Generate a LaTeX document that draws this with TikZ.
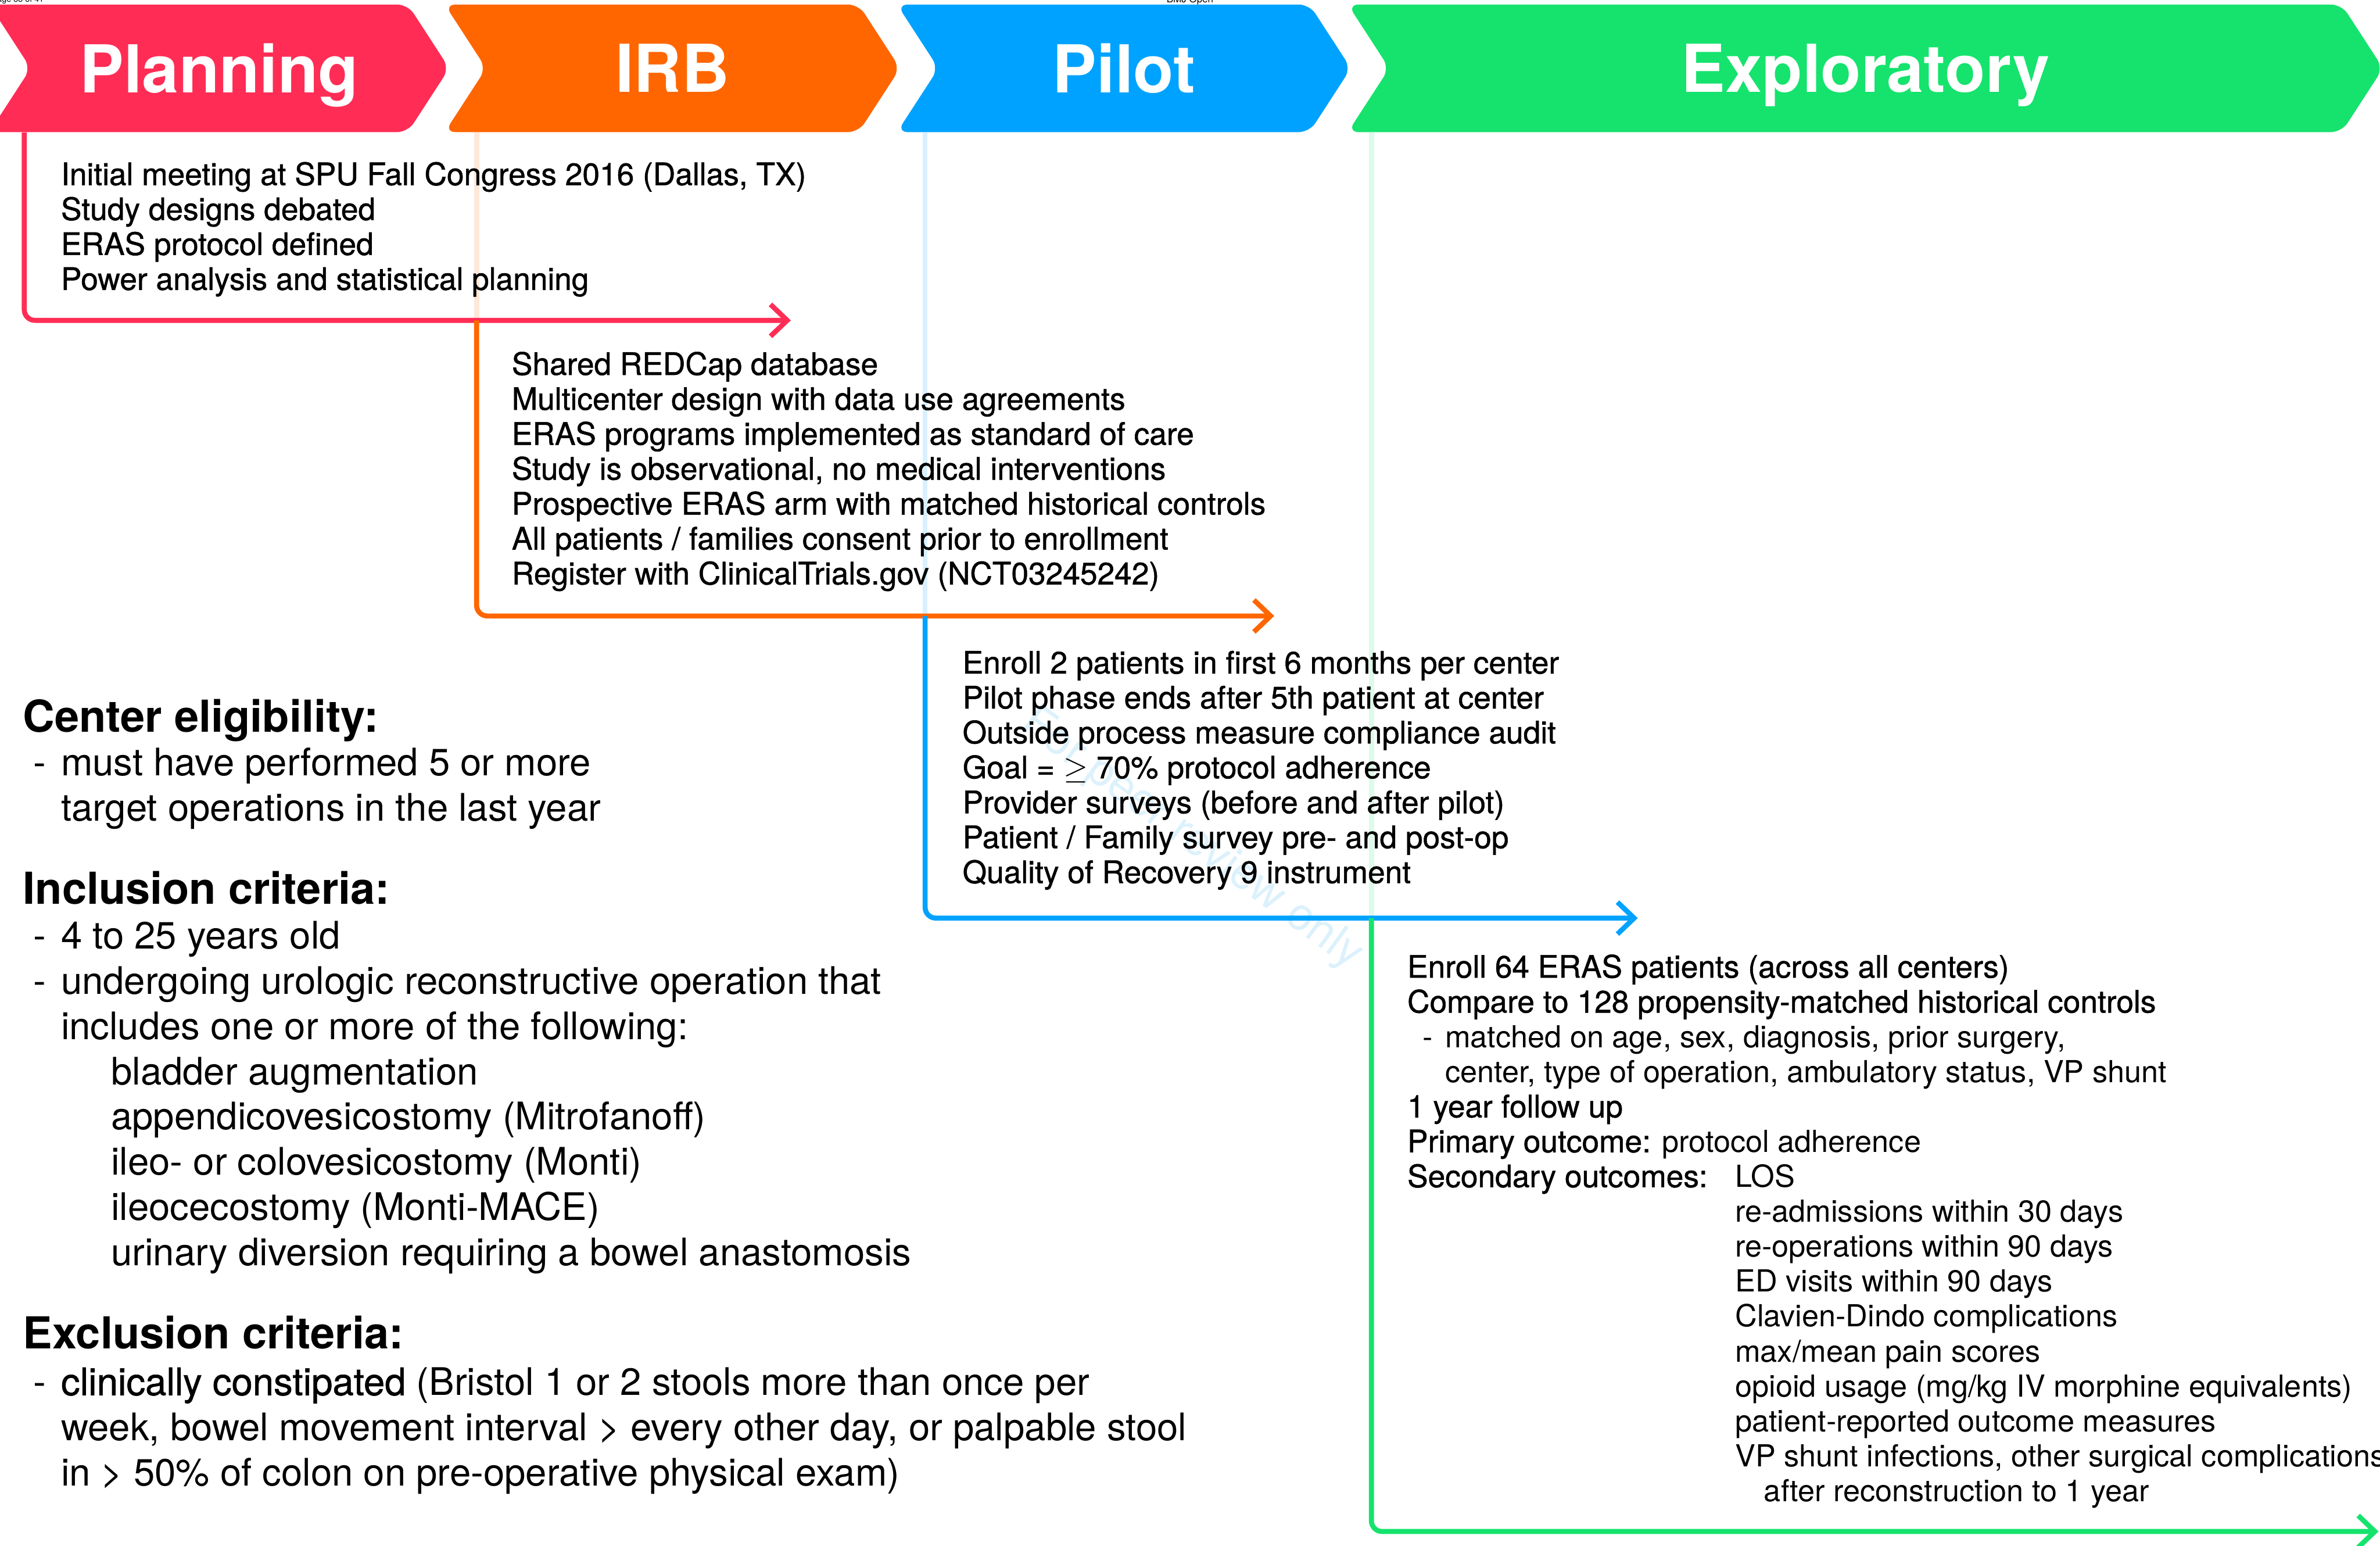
\documentclass[tikz,border=0pt]{standalone}
\usepackage{fontspec}
\setmainfont{TeX Gyre Heros}
\newfontfamily\medfont[FakeBold=1]{TeX Gyre Heros}
\newfontfamily\lightfont{TeX Gyre Heros}
\usetikzlibrary{shapes.symbols}
\usetikzlibrary{arrows.meta}
\tikzset{>={Straight Barb[length=11pt,width=21pt]}}
\definecolor{planred}{RGB}{255,45,85}
\definecolor{irborange}{RGB}{255,102,0}
\definecolor{pilotblue}{RGB}{0,162,255}
\definecolor{explgreen}{RGB}{21,227,109}
\definecolor{wmark}{RGB}{220,241,252}
\newcommand{\dashitem}{\makebox[18pt][l]{-}}
\newcommand{\lt}{\lightfont\fontsize{20}{23}\selectfont}

\begin{document}
\begin{tikzpicture}[x=1pt, y=-1pt, phase/.style={signal, signal from=west, signal to=east, signal pointer angle=114, minimum height=84pt, minimum width=#1, inner sep=0pt, text depth=0pt, text=white, font=\bfseries\fontsize{43.5}{44}\selectfont, rounded corners=7pt}, flow/.style={draw=#1, line width=3.3pt, rounded corners=7pt, ->}, faint/.style={draw=#1!15, line width=3.3pt}, block/.style={anchor=north west, inner sep=0pt, align=left, font=\medfont\fontsize{20.4}{23}\selectfont}, crit/.style={anchor=north west, inner sep=0pt, align=left, font=\lightfont\fontsize{25}{29.8}\selectfont}, crithead/.style={anchor=north west, inner sep=0pt, font=\bfseries\fontsize{29}{30}\selectfont}]
    \useasboundingbox (0,0) rectangle (1568,1018);

    %Page marks
    \node[anchor=base east, inner sep=0pt, font=\fontsize{5.5}{6}\selectfont] (pageno) at (29,1.5) {Page 33 of 41};
    \node[anchor=base, inner sep=0pt, font=\fontsize{6.5}{7}\selectfont] (journal) at (784,1.8) {BMJ Open};
    \node[rotate=-36, text=wmark, font=\fontsize{30}{30}\selectfont] (review) at (785,553) {For peer review only};

    %Phases
    \node[phase=303pt, fill=planred](plan) at (144.5,45) {Planning};
    \node[phase=300pt, fill=irborange](irb) at (443,45) {IRB};
    \node[phase=299pt, fill=pilotblue](pilot) at (740.5,45) {Pilot};
    \node[phase=682pt, fill=explgreen](expl) at (1229,45) {Exploratory};

    \coordinate (planCol) at (16,0);
    \coordinate (irbCol) at (314,0);
    \coordinate (pilotCol) at (609.5,0);
    \coordinate (explCol) at (903.5,0);
    \coordinate (planEnd) at (521,211);
    \coordinate (irbEnd) at (839.5,405.7);
    \coordinate (pilotEnd) at (1079,604.7);
    \coordinate (explEnd) at (1567,1008.7);

    %Lines
    \draw[faint=irborange] (irb.south -| irbCol) -- (irbCol |- planEnd);
    \draw[faint=pilotblue] (pilot.south -| pilotCol) -- (pilotCol |- irbEnd);
    \draw[faint=explgreen] (expl.south -| explCol) -- (explCol |- pilotEnd);
    \draw[flow=planred] (plan.south -| planCol) |- (planEnd);
    \draw[flow=irborange] (irbCol |- planEnd) |- (irbEnd);
    \draw[flow=pilotblue] (pilotCol |- irbEnd) |- (pilotEnd);
    \draw[flow=explgreen] (explCol |- pilotEnd) |- (explEnd);

    %Steps
    \node[block](planText) at (40,106.5) {Initial meeting at SPU Fall Congress 2016 (Dallas, TX)\\
        Study designs debated\\
        ERAS protocol defined\\
        Power analysis and statistical planning};
    \node[block](irbText) at (337,231.5) {Shared REDCap database\\
        Multicenter design with data use agreements\\
        ERAS programs implemented as standard of care\\
        Study is observational, no medical interventions\\
        Prospective ERAS arm with matched historical controls\\
        All patients / families consent prior to enrollment\\
        Register with ClinicalTrials.gov (NCT03245242)};
    \node[block](pilotText) at (634,428.5) {Enroll 2 patients in first 6 months per center\\
        Pilot phase ends after 5th patient at center\\
        Outside process measure compliance audit\\
        Goal = $\geq$ 70\% protocol adherence\\
        Provider surveys (before and after pilot)\\
        Patient / Family survey pre- and post-op\\
        Quality of Recovery 9 instrument};
    \node[block](explText) at (927,628.5) {Enroll 64 ERAS patients (across all centers)\\
        Compare to 128 propensity-matched historical controls\\
        \hspace*{10pt}{\lt\makebox[15pt][l]{-}matched on age, sex, diagnosis, prior surgery,}\\
        \hspace*{25pt}{\lt center, type of operation, ambulatory status, VP shunt}\\
        1 year follow up\\
        Primary outcome: {\lt protocol adherence}\\
        \makebox[216pt][l]{Secondary outcomes:}{\lt LOS}\\
        \hspace*{216pt}{\lt re-admissions within 30 days}\\
        \hspace*{216pt}{\lt re-operations within 90 days}\\
        \hspace*{216pt}{\lt ED visits within 90 days}\\
        \hspace*{216pt}{\lt Clavien-Dindo complications}\\
        \hspace*{216pt}{\lt max/mean pain scores}\\
        \hspace*{216pt}{\lt opioid usage (mg/kg IV morphine equivalents)}\\
        \hspace*{216pt}{\lt patient-reported outcome measures}\\
        \hspace*{216pt}{\lt VP shunt infections, other surgical complications}\\
        \hspace*{235pt}{\lt after reconstruction to 1 year}};

    %Criteria
    \node[crithead](eligHead) at (15,460.5) {Center eligibility:};
    \node[crit](eligList) at (22,492.5) {\dashitem must have performed 5 or more\\
        \hspace*{18pt}target operations in the last year};
    \node[crithead](inclHead) at (15,573.5) {Inclusion criteria:};
    \node[crit](inclList) at (22,606.5) {\dashitem 4 to 25 years old\\
        \dashitem undergoing urologic reconstructive operation that\\
        \hspace*{18pt}includes one or more of the following:\\
        \hspace*{51pt}bladder augmentation\\
        \hspace*{51pt}appendicovesicostomy (Mitrofanoff)\\
        \hspace*{51pt}ileo- or colovesicostomy (Monti)\\
        \hspace*{51pt}ileocecostomy (Monti-MACE)\\
        \hspace*{51pt}urinary diversion requiring a bowel anastomosis};
    \node[crithead](exclHead) at (15,866.5) {Exclusion criteria:};
    \node[crit](exclList) at (22,900.5) {\dashitem {\medfont clinically constipated} (Bristol 1 or 2 stools more than once per\\
        \hspace*{18pt}week, bowel movement interval > every other day, or palpable stool\\
        \hspace*{18pt}in > 50\% of colon on pre-operative physical exam)};

\end{tikzpicture}
\end{document}
